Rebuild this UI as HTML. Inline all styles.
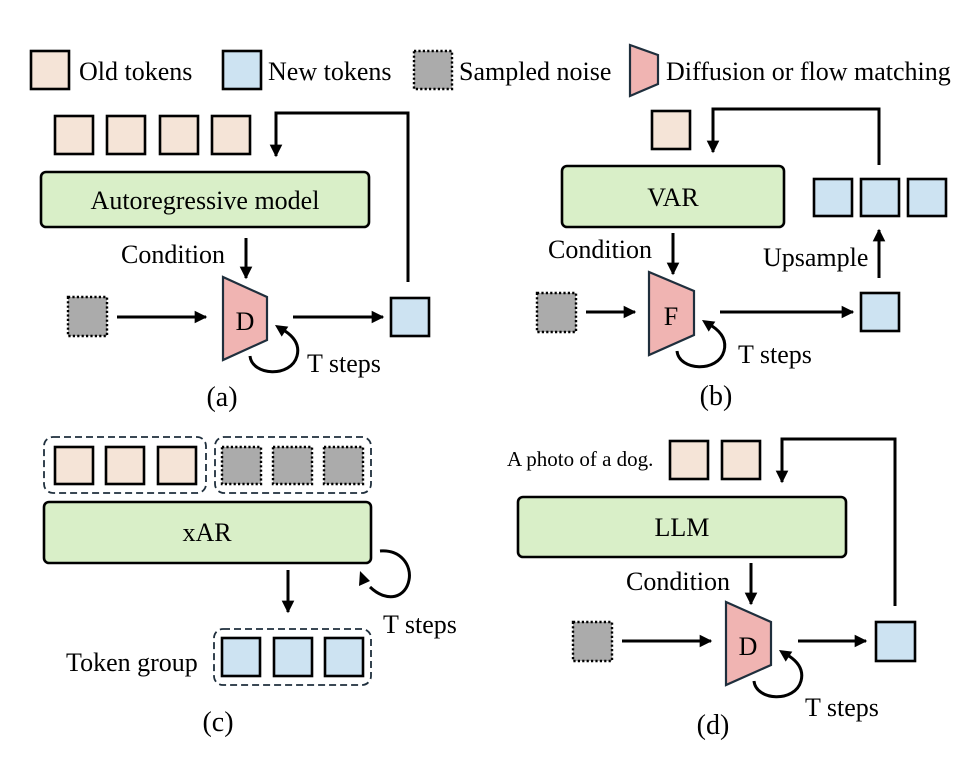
<!DOCTYPE html>
<html><head><meta charset="utf-8"><style>
html,body{margin:0;padding:0;background:#fff;font-family:"Liberation Serif","Times New Roman",serif;}
svg{display:block;}
svg text{font-family:"Liberation Serif","Times New Roman",serif !important;fill:#000;}
.o{fill:#f5e4d7;stroke:#000;stroke-width:2.6;}
.n{fill:#cde3f2;stroke:#000;stroke-width:2.6;}
.z{fill:#ababab;stroke:#000;stroke-width:2.4;stroke-dasharray:2.2 2.2;}
.g{fill:#d9efc8;stroke:#000;stroke-width:2.6;}
.t{fill:#f0b4b2;stroke:#1f2f3d;stroke-width:2.2;}
.l{fill:none;stroke:#000;stroke-width:3;}
.d{fill:none;stroke:#1f2f3d;stroke-width:1.8;stroke-dasharray:7 4;}
</style></head><body>
<svg width="966" height="772" viewBox="0 0 966 772" xmlns="http://www.w3.org/2000/svg" font-family="Liberation Serif, Times New Roman, serif">
<defs>
<marker id="a" viewBox="0 0 10 10" refX="9" refY="5" markerWidth="4.2" markerHeight="4.2" markerUnits="strokeWidth" orient="auto"><path d="M0,0 L10,5 L0,10 z" fill="#000"/></marker>
</defs>
<g font-family="Liberation Serif, serif">
<!-- legend -->
<rect class="o" x="31" y="51" width="38" height="38"/>
<text x="79" y="80" font-size="26">Old tokens</text>
<rect class="n" x="223" y="51" width="38" height="38"/>
<text x="268" y="80" font-size="26">New tokens</text>
<rect class="z" x="414" y="51" width="38" height="38"/>
<text x="459" y="80" font-size="26">Sampled noise</text>
<polygon class="t" points="630,45 658,55 658,84 630,96"/>
<text x="666" y="80" font-size="26">Diffusion or flow matching</text>

<!-- (a) -->
<rect class="o" x="55" y="116" width="38" height="38"/>
<rect class="o" x="107" y="116" width="38" height="38"/>
<rect class="o" x="160" y="116" width="38" height="38"/>
<rect class="o" x="212" y="116" width="38" height="38"/>
<polyline class="l" points="408,282 408,113 276,113 276,156" marker-end="url(#a)"/>
<rect class="g" x="41" y="172" width="328" height="55" rx="5"/>
<text x="205" y="209" font-size="26" text-anchor="middle">Autoregressive model</text>
<line class="l" x1="246" y1="238" x2="246" y2="278" marker-end="url(#a)"/>
<text x="121" y="263" font-size="26">Condition</text>
<polygon class="t" points="223,277 267,297 267,340 223,360"/>
<text x="245" y="330" font-size="26" text-anchor="middle">D</text>
<rect class="z" x="68" y="297" width="39" height="39"/>
<line class="l" x1="117" y1="317" x2="206" y2="317" marker-end="url(#a)"/>
<line class="l" x1="293" y1="317" x2="383" y2="317" marker-end="url(#a)"/>
<rect class="n" x="391" y="298" width="38" height="38"/>
<g transform="translate(267,318)">
<path class="l" d="M-17,38 C-15,58 24,60 30,38 C33,27 27,19 18,13"/>
<polygon points="8,7 21.3,8.6 14.7,18.6" fill="#000"/>
</g>
<text x="307" y="372" font-size="26">T steps</text>
<text x="222" y="406" font-size="28" text-anchor="middle">(a)</text>

<!-- (b) -->
<rect class="o" x="652" y="111" width="38" height="38"/>
<polyline class="l" points="879,165 879,109 713,109 713,152" marker-end="url(#a)"/>
<rect class="g" x="562" y="166" width="222" height="61" rx="5"/>
<text x="673" y="206" font-size="26" text-anchor="middle">VAR</text>
<line class="l" x1="673" y1="233" x2="673" y2="274" marker-end="url(#a)"/>
<text x="548" y="258" font-size="26">Condition</text>
<polygon class="t" points="649,272 694,291 694,335 649,355"/>
<text x="671" y="325" font-size="26" text-anchor="middle">F</text>
<rect class="z" x="537" y="293" width="39" height="39"/>
<line class="l" x1="586" y1="312" x2="635" y2="312" marker-end="url(#a)"/>
<line class="l" x1="720" y1="312" x2="853" y2="312" marker-end="url(#a)"/>
<rect class="n" x="861" y="293" width="38" height="38"/>
<line class="l" x1="879" y1="278" x2="879" y2="230" marker-end="url(#a)"/>
<text x="763" y="266" font-size="26">Upsample</text>
<rect class="n" x="814" y="179" width="38" height="37"/>
<rect class="n" x="861" y="179" width="38" height="37"/>
<rect class="n" x="908" y="179" width="38" height="37"/>
<g transform="translate(694,313)">
<path class="l" d="M-17,38 C-15,58 24,60 30,38 C33,27 27,19 18,13"/>
<polygon points="8,7 21.3,8.6 14.7,18.6" fill="#000"/>
</g>
<text x="738" y="363" font-size="26">T steps</text>
<text x="716" y="405" font-size="28" text-anchor="middle">(b)</text>

<!-- (c) -->
<rect class="d" x="44" y="437" width="162" height="56" rx="9"/>
<rect class="d" x="215" y="437" width="156" height="56" rx="9"/>
<rect class="o" x="55" y="447" width="38" height="37"/>
<rect class="o" x="106" y="447" width="38" height="37"/>
<rect class="o" x="158" y="447" width="38" height="37"/>
<rect class="z" x="222" y="447" width="39" height="37"/>
<rect class="z" x="273" y="447" width="39" height="37"/>
<rect class="z" x="324" y="447" width="39" height="37"/>
<rect class="g" x="44" y="502" width="327" height="61" rx="5"/>
<text x="207" y="541" font-size="26" text-anchor="middle">xAR</text>
<line class="l" x1="288" y1="570" x2="288" y2="612" marker-end="url(#a)"/>
<path class="l" d="M380,551 C400,549 412,565 409,580 C406,597 388,604 370,587"/>
<polygon points="360,571 370,581 359,586" fill="#000"/>
<text x="383" y="633" font-size="26">T steps</text>
<rect class="d" x="214" y="629" width="157" height="56" rx="9"/>
<rect class="n" x="222" y="638" width="38" height="38"/>
<rect class="n" x="274" y="638" width="38" height="38"/>
<rect class="n" x="325" y="638" width="38" height="38"/>
<text x="66" y="671" font-size="26">Token group</text>
<text x="218" y="731" font-size="28" text-anchor="middle">(c)</text>

<!-- (d) -->
<text x="507" y="466" font-size="21">A photo of a dog.</text>
<rect class="o" x="670" y="441" width="38" height="38"/>
<rect class="o" x="722" y="441" width="38" height="38"/>
<polyline class="l" points="895,606 895,439 782,439 782,482" marker-end="url(#a)"/>
<rect class="g" x="518" y="497" width="328" height="60" rx="5"/>
<text x="682" y="536" font-size="26" text-anchor="middle">LLM</text>
<line class="l" x1="751" y1="563" x2="751" y2="604" marker-end="url(#a)"/>
<text x="626" y="590" font-size="26">Condition</text>
<polygon class="t" points="726,602 771,622 771,665 726,685"/>
<text x="748" y="655" font-size="26" text-anchor="middle">D</text>
<rect class="z" x="573" y="622" width="39" height="39"/>
<line class="l" x1="622" y1="641" x2="711" y2="641" marker-end="url(#a)"/>
<line class="l" x1="798" y1="641" x2="866" y2="641" marker-end="url(#a)"/>
<rect class="n" x="876" y="622" width="39" height="39"/>
<g transform="translate(771,643)">
<path class="l" d="M-17,38 C-15,58 24,60 30,38 C33,27 27,19 18,13"/>
<polygon points="8,7 21.3,8.6 14.7,18.6" fill="#000"/>
</g>
<text x="805" y="716" font-size="26">T steps</text>
<text x="713" y="734" font-size="28" text-anchor="middle">(d)</text>
</g>
</svg>
</body></html>
